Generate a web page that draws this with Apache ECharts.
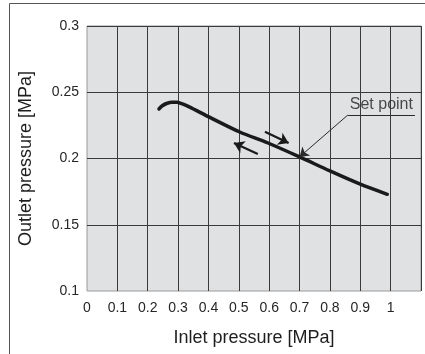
<!DOCTYPE html>
<html>
<head>
<meta charset="utf-8">
<script src="https://cdn.jsdelivr.net/npm/echarts@6/dist/echarts.min.js"></script>
<style>
  html, body { margin: 0; padding: 0; background: #fff; }
  #chart { width: 425px; height: 354px; }
</style>
</head>
<body>
<div id="chart"></div>
<script>
// curve (inlet MPa, outlet MPa)
var inletP = [0.237, 0.248, 0.262, 0.28, 0.296, 0.312, 0.335, 0.405, 0.503, 0.596, 0.70, 0.80, 0.898, 0.989];
var outletP = [0.2374, 0.2398, 0.2415, 0.2425, 0.2425, 0.2414, 0.2392, 0.231, 0.220, 0.2117, 0.2012, 0.1906, 0.1808, 0.173];

// direction arrows [x1, y1, x2, y2]
var arrowUp = [0.586, 0.2202, 0.664, 0.2117];
var arrowDown = [0.5625, 0.2034, 0.484, 0.2117];

// set point annotation
var setPoint = [0.70, 0.2012];
var setLabelAt = [0.859, 0.2328];
var setLabelEnd = 1.08;

var xTicks = [0, 0.1, 0.2, 0.3, 0.4, 0.5, 0.6, 0.7, 0.8, 0.9, 1];
var yTicks = [0.1, 0.15, 0.2, 0.25, 0.3];

var chart = echarts.init(document.getElementById("chart"));

var font = "Liberation Sans, Arial, sans-serif";

chart.setOption({
  animation: false,
  textStyle: { fontFamily: font },
  graphic: [
    {
      type: "rect",
      shape: { x: 9.5, y: 3.5, width: 600, height: 600 },
      style: { fill: "none", stroke: "#555", lineWidth: 1 }
    }
  ],
  grid: {
    left: 87,
    top: 26,
    right: 4,
    bottom: 63,
    show: true,
    backgroundColor: "#e0e1e3",
    borderColor: "#9a9a9a",
    borderWidth: 1
  },
  xAxis: {
    type: "value",
    min: 0,
    max: 1.1,
    interval: 0.1,
    name: "Inlet pressure [MPa]",
    nameLocation: "middle",
    nameGap: 38,
    nameTextStyle: { fontSize: 18, color: "#1e1e1e", fontFamily: font },
    axisLine: { show: false },
    axisTick: { show: false },
    axisLabel: {
      fontSize: 14,
      color: "#262626",
      margin: 10,
      formatter: function (v) {
        var r = Math.round(v * 10) / 10;
        return xTicks.indexOf(r) >= 0 ? String(r) : "";
      }
    },
    splitLine: {
      show: true,
      showMinLine: false,
      lineStyle: { color: "#3a3a3a", width: 1 }
    }
  },
  yAxis: {
    type: "value",
    min: 0.1,
    max: 0.3,
    interval: 0.05,
    name: "Outlet pressure [MPa]",
    nameLocation: "middle",
    nameGap: 52,
    nameTextStyle: { fontSize: 18, color: "#1e1e1e", fontFamily: font },
    axisLine: { show: false },
    axisTick: { show: false },
    axisLabel: {
      fontSize: 14,
      color: "#262626",
      margin: 8,
      formatter: function (v) {
        var r = Math.round(v * 100) / 100;
        return yTicks.indexOf(r) >= 0 ? String(r) : "";
      }
    },
    splitLine: {
      show: true,
      showMinLine: false,
      lineStyle: { color: "#3a3a3a", width: 1 }
    }
  },
  series: [
    {
      type: "line",
      smooth: 0.3,
      symbol: "none",
      lineStyle: { color: "#1a1a1a", width: 3.5, cap: "round" },
      data: inletP.map(function (x, i) { return [x, outletP[i]]; }),
      z: 5
    },
    {
      type: "lines",
      coordinateSystem: "cartesian2d",
      symbol: ["none", "arrow"],
      symbolSize: 10,
      lineStyle: { color: "#1a1a1a", width: 2.2, opacity: 1 },
      data: [
        { coords: [[arrowUp[0], arrowUp[1]], [arrowUp[2], arrowUp[3]]] },
        { coords: [[arrowDown[0], arrowDown[1]], [arrowDown[2], arrowDown[3]]] }
      ],
      z: 6
    },
    {
      type: "lines",
      coordinateSystem: "cartesian2d",
      symbol: ["none", "arrow"],
      symbolSize: [6, 9],
      lineStyle: { color: "#2a2a2a", width: 1, opacity: 1 },
      data: [
        { coords: [setLabelAt, setPoint] }
      ],
      z: 6
    },
    {
      type: "lines",
      coordinateSystem: "cartesian2d",
      symbol: "none",
      lineStyle: { color: "#2a2a2a", width: 1, opacity: 1 },
      data: [
        { coords: [setLabelAt, [setLabelEnd, setLabelAt[1]]] }
      ],
      z: 6
    },
    {
      type: "scatter",
      symbolSize: 0,
      silent: true,
      data: [[(setLabelAt[0] + setLabelEnd) / 2, setLabelAt[1]]],
      label: {
        show: true,
        position: "top",
        distance: 2,
        formatter: "Set point",
        fontSize: 16,
        color: "#1e1e1e",
        fontFamily: font
      },
      z: 7
    }
  ]
});
</script>
</body>
</html>
